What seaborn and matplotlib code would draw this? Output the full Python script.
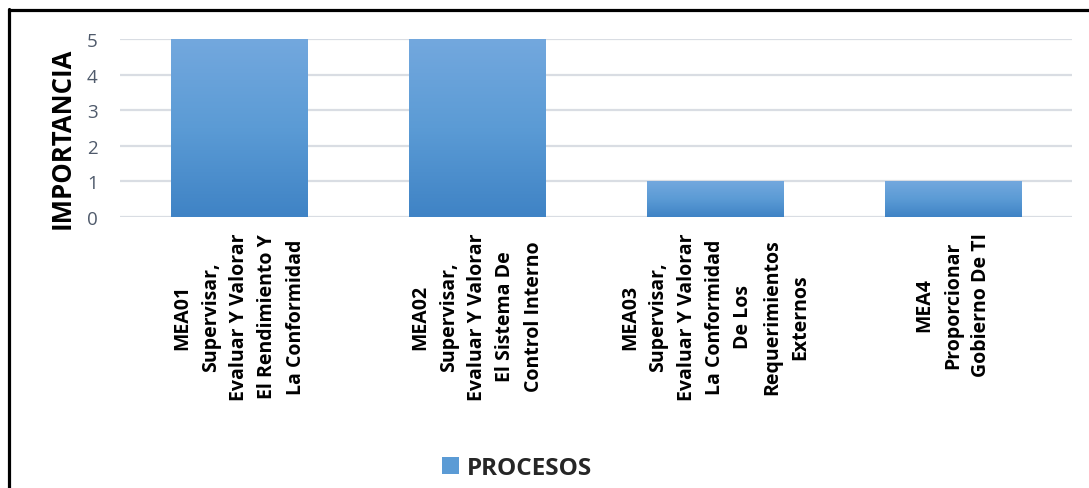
import numpy as np
import pandas as pd
import matplotlib
matplotlib.use("Agg")
import matplotlib.pyplot as plt
from matplotlib.colors import LinearSegmentedColormap
from matplotlib.lines import Line2D
from matplotlib.patches import Patch
import seaborn as sns

# Process names (one entry per bar) and their importance score
procesos = [
    "MEA01\nSupervisar,\nEvaluar Y Valorar\nEl Rendimiento Y\nLa Conformidad",
    "MEA02\nSupervisar,\nEvaluar Y Valorar\nEl Sistema De\nControl Interno",
    "MEA03\nSupervisar,\nEvaluar Y Valorar\nLa Conformidad\nDe Los\nRequerimientos\nExternos",
    "MEA4\nProporcionar\nGobierno De TI",
]
importancia = [5, 5, 1, 1]
y_ticks = [0, 1, 2, 3, 4, 5]
serie = "PROCESOS"

df = pd.DataFrame({"proceso": procesos, "importancia": importancia})

sns.set_style("white")
plt.rcParams["font.family"] = ["Open Sans", "DejaVu Sans"]

W, H = 1089, 489
fig = plt.figure(figsize=(W / 100, H / 100), dpi=100)
ax = fig.add_axes([120 / W, 1 - 218 / H, (1072 - 120) / W, (218 - 40) / H])

base = "#5b9bd5"
sns.barplot(data=df, x="proceso", y="importancia", color=base,
            width=0.575, ax=ax, zorder=2, linewidth=0, saturation=1)

# Vertical gradient fill on each bar
cmap = LinearSegmentedColormap.from_list("barra", ["#3f83c5", "#5b9bd5", "#73a8de"])
grad = np.linspace(0, 1, 256).reshape(-1, 1)
for p in list(ax.patches):
    x0, y0 = p.get_x(), p.get_y()
    x1, y1 = x0 + p.get_width(), y0 + p.get_height()
    im = ax.imshow(grad, cmap=cmap, extent=[x0, x1, y0, y1], origin="lower",
                   aspect="auto", zorder=3)
    im.set_clip_path(p)

ax.set_xlim(-0.5, len(procesos) - 0.5)
ax.set_ylim(0, 5)
ax.set_yticks(y_ticks)
ax.set_yticklabels([str(t) for t in y_ticks], fontsize=13.5, color="#4f5a6b")
ax.yaxis.grid(True, color="#d9dde3", linewidth=1.6, zorder=0)
ax.set_axisbelow(True)
for s in ax.spines.values():
    s.set_visible(False)
ax.tick_params(axis="both", length=0)
ax.tick_params(axis="y", pad=16)
ax.tick_params(axis="x", pad=11)

ax.set_xlabel("")
ax.set_xticks(range(len(procesos)))
ax.set_xticklabels(procesos, rotation=90, fontsize=14, fontweight="bold",
                   color="black", ha="center", va="top",
                   multialignment="center", linespacing=1.56)

ax.set_ylabel("IMPORTANCIA", fontsize=18.5, fontweight="bold", color="black",
              va="center")
ax.yaxis.set_label_coords(-0.061, 0.45)

# Legend below the plot
handle = Patch(facecolor=base, edgecolor="none")
fig.legend([handle], [serie], loc="center", bbox_to_anchor=(517 / W, 1 - 469 / H),
           frameon=False, prop={"weight": "bold", "size": 17.5},
           handlelength=0.7, handleheight=0.7, handletextpad=0.35)

# Outer frame (left and top edges)
fig.add_artist(Line2D([9 / W, 9 / W], [0, 1 - 10 / H], color="black",
                      linewidth=2.3, transform=fig.transFigure))
fig.add_artist(Line2D([9 / W, 1], [1 - 11 / H, 1 - 11 / H], color="black",
                      linewidth=2.3, transform=fig.transFigure))

fig.savefig("out.png", dpi=100)
